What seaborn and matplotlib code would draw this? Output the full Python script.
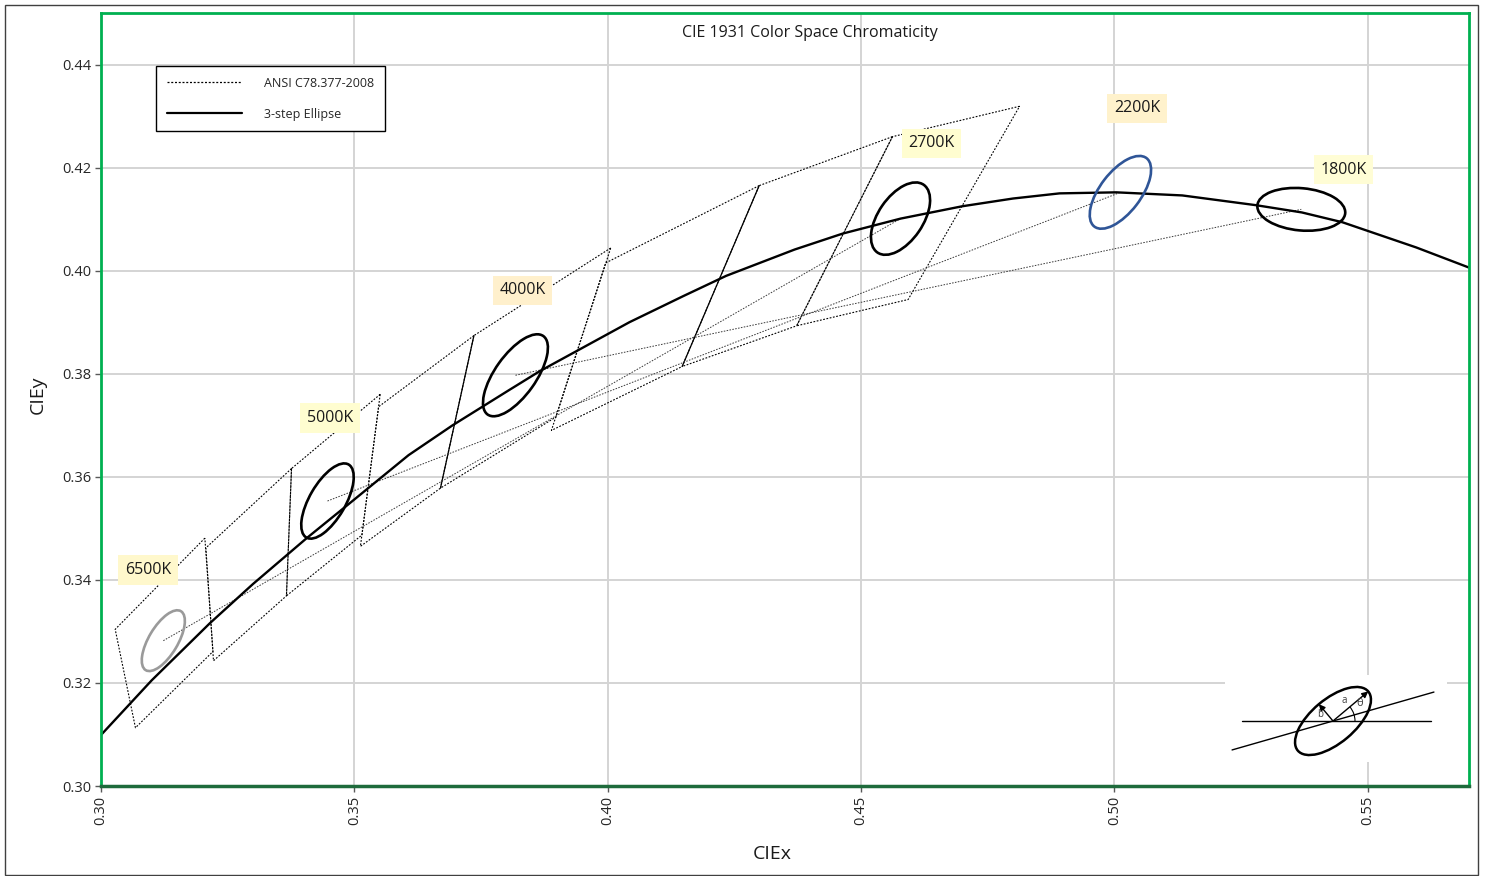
import numpy as np
import pandas as pd
import seaborn as sns
import matplotlib
matplotlib.use("Agg")
import matplotlib.pyplot as plt
from matplotlib.patches import Ellipse, Rectangle, Arc
from matplotlib.lines import Line2D

# ---------------- data ----------------
# Planckian locus
locus_x = [0.300, 0.3100, 0.3215, 0.3300, 0.3406, 0.3500, 0.3607, 0.3694, 0.3805,
           0.3866, 0.4043, 0.4150, 0.4234, 0.4369, 0.4464, 0.4578, 0.4700, 0.4800,
           0.4892, 0.5004, 0.5134, 0.5280, 0.5370, 0.5450, 0.5596, 0.5700]
locus_y = [0.3099, 0.3205, 0.3316, 0.3392, 0.3481, 0.3556, 0.3642, 0.3700, 0.3768,
           0.3805, 0.3900, 0.3951, 0.3990, 0.4041, 0.4072, 0.4101, 0.4125, 0.4140,
           0.4150, 0.4152, 0.4146, 0.4127, 0.4113, 0.4094, 0.4045, 0.4006]

# ANSI C78.377-2008 quadrangles (corners)
quad_cct = ["2700K", "3000K", "3500K", "4000K", "4500K", "5000K", "5700K", "6500K"]
quad_x = [[0.4813, 0.4562, 0.4373, 0.4593],
          [0.4562, 0.4299, 0.4147, 0.4373],
          [0.4299, 0.3996, 0.3889, 0.4147],
          [0.4006, 0.3736, 0.3670, 0.3898],
          [0.3736, 0.3548, 0.3512, 0.3670],
          [0.3551, 0.3376, 0.3366, 0.3515],
          [0.3376, 0.3207, 0.3222, 0.3366],
          [0.3205, 0.3028, 0.3068, 0.3221]]
quad_y = [[0.4319, 0.4260, 0.3893, 0.3944],
          [0.4260, 0.4165, 0.3814, 0.3893],
          [0.4165, 0.4015, 0.3690, 0.3814],
          [0.4044, 0.3874, 0.3578, 0.3716],
          [0.3874, 0.3736, 0.3465, 0.3578],
          [0.3760, 0.3616, 0.3369, 0.3487],
          [0.3616, 0.3462, 0.3243, 0.3369],
          [0.3481, 0.3304, 0.3113, 0.3261]]
solid_edge_quads = ["3500K", "4500K"]   # closing edge drawn solid

# 3-step ellipses
ell_cct = ["6500K", "5000K", "4000K", "2700K", "2200K", "1800K"]
ell_x = [0.3123, 0.3447, 0.3818, 0.4578, 0.5012, 0.5369]
ell_y = [0.3282, 0.3553, 0.3797, 0.4101, 0.4152, 0.4119]
ell_a = [0.00669, 0.00822, 0.00939, 0.0080, 0.0084, 0.0087]
ell_b = [0.00285, 0.00354, 0.00402, 0.0044, 0.0040, 0.0041]
ell_theta = [58.57, 59.37, 54.0, 55.0, 52.0, -5.0]
ell_color = ["#9A9A9A", "black", "black", "black", "#2F5597", "black"]

# thin connecting lines between ellipse centres
link_pairs = [("6500K", "2700K"), ("5000K", "2200K"), ("4000K", "1800K")]

# CCT labels
label_text = ["6500K", "5000K", "4000K", "2700K", "2200K", "1800K"]
label_x = [0.3093, 0.3452, 0.3832, 0.4639, 0.5045, 0.5452]
label_y = [0.3419, 0.3714, 0.3962, 0.4247, 0.4315, 0.4196]
label_bg = ["#FFF8CC", "#FFFDD0", "#FFF0CC", "#FFFDD0", "#FFF2CC", "#FFFDD5"]

x_ticks = [0.30, 0.35, 0.40, 0.45, 0.50, 0.55]
y_ticks = [0.30, 0.32, 0.34, 0.36, 0.38, 0.40, 0.42, 0.44]
x_range = (0.30, 0.57)
y_range = (0.30, 0.45)

# ---------------- plot ----------------
sns.set_theme(style="white")
plt.rcParams["font.family"] = ["Open Sans", "DejaVu Sans"]

fig = plt.figure(figsize=(14.86, 8.76), dpi=100)
ax = fig.add_axes([101 / 1486, 90 / 876, 1368 / 1486, 773 / 876])
ax.set_xlim(*x_range)
ax.set_ylim(*y_range)
ax.set_xticks(x_ticks)
ax.set_yticks(y_ticks)
ax.set_xticklabels([f"{v:.2f}" for v in x_ticks], rotation=90)
ax.set_yticklabels([f"{v:.2f}" for v in y_ticks])
ax.grid(True, color="#D4D4D4", lw=1.4)
ax.set_axisbelow(True)

dot = (0, (1.6, 1.4))

# quadrangles
for cct, qx, qy in zip(quad_cct, quad_x, quad_y):
    if cct in solid_edge_quads:
        ax.plot(qx, qy, color="black", lw=0.8, ls=dot, zorder=3)
        ax.plot([qx[-1], qx[0]], [qy[-1], qy[0]], color="black", lw=0.9, ls="-", zorder=3)
    else:
        ax.plot(qx + qx[:1], qy + qy[:1], color="black", lw=0.8, ls=dot, zorder=3)

# links between ellipse centres
for p, q in link_pairs:
    i, j = ell_cct.index(p), ell_cct.index(q)
    ax.plot([ell_x[i], ell_x[j]], [ell_y[i], ell_y[j]], color="#3A3A3A", lw=0.7, ls=dot, zorder=3)

# Planckian locus
locus_df = pd.DataFrame({"x": locus_x, "y": locus_y})
sns.lineplot(data=locus_df, x="x", y="y", ax=ax, color="black", lw=1.7,
             sort=False, estimator=None, zorder=4)

# ellipses
for x, y, a, b, t, c in zip(ell_x, ell_y, ell_a, ell_b, ell_theta, ell_color):
    ax.add_patch(Ellipse((x, y), 2 * a, 2 * b, angle=t, fill=False, ec=c, lw=1.9, zorder=5))

# labels
for t, x, y, bg in zip(label_text, label_x, label_y, label_bg):
    ax.text(x, y, t, ha="center", va="center", fontsize=11.5, color="#1A1A1A", zorder=6,
            bbox=dict(boxstyle="square,pad=0.42", fc=bg, ec="none"))

ax.text((810 - 101) / 1368, (786 - 33) / 773, "CIE 1931 Color Space Chromaticity",
        transform=ax.transAxes, ha="center", va="center", fontsize=11.5, color="#1A1A1A")

ax.set_xlabel("CIEx", fontsize=14, color="#1A1A1A")
ax.set_ylabel("CIEy", fontsize=14, color="#1A1A1A")
ax.xaxis.set_label_coords((772 - 101) / 1368, -(845 - 786) / 773)
ax.yaxis.set_label_coords(-(101 - 47) / 1368, (786 - 395) / 773)

ax.tick_params(axis="both", which="major", direction="out", length=4, width=1,
               color="#595959", labelsize=10.5, labelcolor="#262626",
               bottom=True, left=True, pad=3)

for s in ["top", "right", "left"]:
    ax.spines[s].set_color("#00B050")
    ax.spines[s].set_linewidth(2.0)
ax.spines["bottom"].set_color("#1E6B3C")
ax.spines["bottom"].set_linewidth(2.5)
for s in ax.spines.values():
    s.set_zorder(10)

legend_handles = [Line2D([], [], color="black", lw=0.9, ls=dot),
                  Line2D([], [], color="black", lw=1.6)]
leg = ax.legend(legend_handles, ["ANSI C78.377-2008", "3-step Ellipse"],
                loc="upper left", bbox_to_anchor=((156 - 101) / 1368, (786 - 66) / 773),
                borderaxespad=0, fontsize=9, frameon=True, fancybox=False,
                edgecolor="black", framealpha=1, handlelength=6.0, handletextpad=1.8,
                labelspacing=1.45, borderpad=0.85)
leg.get_frame().set_linewidth(1.0)
leg.set_zorder(11)

# ---- schematic inset (ellipse parameter sketch) ----
sch_center = (108, 41)
sch_a, sch_b, sch_angle = 46, 22, 40
sch_hline = (17, 206)
sch_slope_deg, sch_half_len = 16, 105
sch_arc_r = 22

ins = fig.add_axes([1225 / 1486, (876 - 762) / 876, 222 / 1486, 87 / 876])
ins.set_xlim(0, 222)
ins.set_ylim(0, 87)
ins.set_xticks([])
ins.set_yticks([])
ins.set_facecolor("white")
for s in ins.spines.values():
    s.set_visible(False)
cx, cy = sch_center
ins.plot(list(sch_hline), [cy, cy], color="black", lw=1.0)
ang = np.deg2rad(sch_slope_deg)
ins.plot([cx - sch_half_len * np.cos(ang), cx + sch_half_len * np.cos(ang)],
         [cy - sch_half_len * np.sin(ang), cy + sch_half_len * np.sin(ang)], color="black", lw=1.0)
ins.add_patch(Ellipse((cx, cy), 2 * sch_a, 2 * sch_b, angle=sch_angle, fill=False, ec="black", lw=1.8))
ta = np.deg2rad(sch_angle)
tb = np.deg2rad(sch_angle + 90)
ins.annotate("", xy=(cx + sch_a * np.cos(ta), cy + sch_a * np.sin(ta)), xytext=(cx, cy),
             arrowprops=dict(arrowstyle="-|>", color="black", lw=1.0, mutation_scale=9, shrinkA=0, shrinkB=0))
ins.annotate("", xy=(cx + sch_b * np.cos(tb), cy + sch_b * np.sin(tb)), xytext=(cx, cy),
             arrowprops=dict(arrowstyle="-|>", color="black", lw=1.0, mutation_scale=9, shrinkA=0, shrinkB=0))
ins.add_patch(Arc((cx, cy), 2 * sch_arc_r, 2 * sch_arc_r, theta1=0, theta2=sch_angle, color="black", lw=0.8))
ins.text(cx + 0.5 * sch_a * np.cos(ta) - 6, cy + 0.5 * sch_a * np.sin(ta) + 6, "a", fontsize=7, color="#404040",
         ha="center", va="center")
ins.text(cx + 0.5 * sch_b * np.cos(tb) - 6, cy + 0.5 * sch_b * np.sin(tb) - 2, "b", fontsize=7, color="#404040",
         ha="center", va="center")
ins.text(cx + 27, cy + 18, "θ", fontsize=8, color="#404040", ha="center", va="center")

# figure border
fig.add_artist(Rectangle((5 / 1486, 1 / 876), 1473 / 1486, 870 / 876, transform=fig.transFigure,
                         fill=False, ec="#404040", lw=1.0))

fig.savefig("out.png", dpi=100, facecolor="white")
